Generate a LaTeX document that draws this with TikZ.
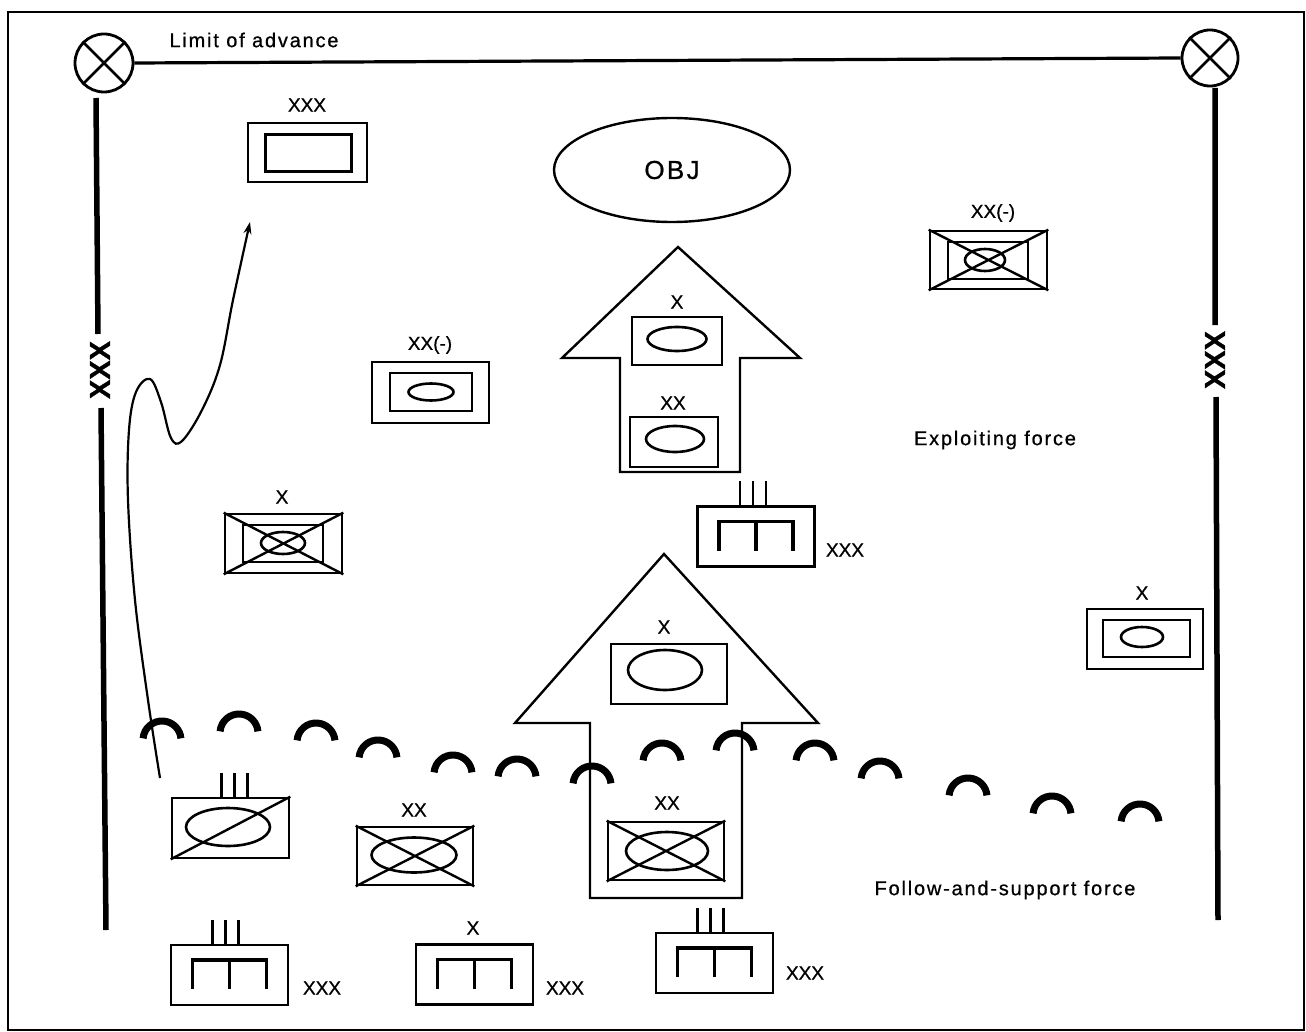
\documentclass[tikz,border=0pt]{standalone}
\usepackage{fontspec}
\setmainfont{Liberation Sans}[FakeBold=0.7]
\newfontfamily\captionfont{Liberation Sans}[LetterSpace=9,FakeBold=0.7]
\usetikzlibrary{shapes.geometric,calc,arrows.meta}

% artillery symbol: box, inner bracket, optional tube ticks
\newcommand\artyunit[3]{%
  \node[unitbox,minimum width=117pt,minimum height=60pt] (#1) at (#2,#3) {};
  \draw[bracket] ($(#1.center)+(-37,14)$) |- ($(#1.center)+(37,-15)$) -- ++(0,29);
  \draw[bracket] ($(#1.center)+(0,-15)$) -- ++(0,29);
}
\newcommand\tubeticks[2]{% node, horizontal offset of the middle tick
  \foreach \dx in {-13,0,13}{\draw[tick] ($(#1.north)+(#2+\dx,0)$) -- ++(0,-24);}
}
% obstacle arc, given by the centre of its base
\newcommand\wirearc[2]{\draw[wire] (#1,#2) ++(185:19) arc[start angle=185,end angle=355,radius=19];}

\begin{document}
\begin{tikzpicture}[x=1pt,y=-1pt,
  frame/.style={line width=2pt},
  boundary/.style={line width=5.5pt},
  loa/.style={line width=3.2pt},
  unitbox/.style={draw,line width=2.6pt,inner sep=0pt,rectangle},
  unitoval/.style={draw,line width=2.6pt,inner sep=0pt,ellipse},
  echelon/.style={font=\fontsize{19}{19}\selectfont,inner sep=0pt},
  caption/.style={font=\captionfont\fontsize{20}{20}\selectfont,inner sep=0pt},
  bdrylabel/.style={font=\fontsize{29}{29}\selectfont\bfseries,rotate=90,inner sep=0pt},
  blockarrow/.style={line width=2.4pt,line join=miter},
  cross/.style={line width=2.4pt},
  bracket/.style={line width=3.2pt},
  tick/.style={line width=2.8pt},
  wire/.style={line width=7pt,line cap=butt},
  cpoint/.style={draw,circle,line width=2.8pt,minimum size=58pt,inner sep=0pt},
]
\useasboundingbox (0,0) rectangle (1306,1032);
\draw[frame] (8,12) rectangle (1304,1030);

% limit of advance with coordinating points
\node[cpoint] (cpl) at (104,63) {};
\node[cpoint,minimum size=56pt] (cpr) at (1210,58) {};
\draw[line width=2.8pt] (cpl.north west) -- (cpl.south east) (cpl.north east) -- (cpl.south west);
\draw[line width=2.8pt] (cpr.north west) -- (cpr.south east) (cpr.north east) -- (cpr.south west);
\draw[loa] (cpl.east) -- (cpr.west);
\node[caption] (loatext) at (254,40) {Limit of advance};

% corps boundaries
\node[bdrylabel] (lbx) at (100,370) {XXX};
\coordinate (lb1) at (96,98);
\coordinate (lb2) at (98,334);
\coordinate (lb3) at (101,408);
\coordinate (lb4) at (106,930);
\draw[boundary] (lb1) -- (lb2) (lb3) -- (lb4);
\node[bdrylabel] (rbx) at (1215,360) {XXX};
\coordinate (rb1) at (1215,88);
\coordinate (rb2) at (1215,325);
\coordinate (rb3) at (1216,397);
\coordinate (rb4) at (1218,920);
\draw[boundary] (rb1) -- (rb2) (rb3) -- (rb4);

% objective
\node[draw,ellipse,line width=2.4pt,minimum width=236pt,minimum height=104pt,
      font=\captionfont\fontsize{26}{26}\selectfont] (obj) at (672,170) {OBJ};

% exploiting force arrow
\draw[blockarrow] (678,247) -- (800,358) -- (740,358) -- (740,472) -- (620,472)
  -- (620,358) -- (562,358) -- cycle;
\node[unitbox,minimum width=90pt,minimum height=48pt] (exb) at (677,341) {};
\node[unitoval,minimum width=59pt,minimum height=24pt] (exbo) at (677,339) {};
\node[echelon] (exbl) at (677,302) {X};
\node[unitbox,minimum width=88pt,minimum height=50pt] (exd) at (674,442) {};
\node[unitoval,minimum width=58pt,minimum height=26pt] (exdo) at (675,439) {};
\node[echelon] (exdl) at (673,403) {XX};
\node[caption] (extext) at (995,440) {Exploiting force};

% follow-and-support force arrow
\draw[blockarrow] (664,554) -- (818,723) -- (742,723) -- (742,898) -- (590,898)
  -- (590,723) -- (515,723) -- cycle;
\node[unitbox,minimum width=116pt,minimum height=60pt] (fsb) at (669,674) {};
\node[unitoval,minimum width=74pt,minimum height=40pt] (fsbo) at (665,670) {};
\node[echelon] (fsbl) at (664,627) {X};
\node[unitbox,minimum width=116pt,minimum height=58pt] (fsd) at (666,851) {};
\node[unitoval,minimum width=82pt,minimum height=38pt] (fsdo) at (667,851) {};
\draw[cross] (fsd.north west) -- (fsd.south east) (fsd.north east) -- (fsd.south west);
\node[echelon] (fsdl) at (667,803) {XX};
\node[caption] (fstext) at (1005,890) {Follow-and-support force};

% corps reserve, upper left
\node[unitbox,minimum width=119pt,minimum height=59pt] (cr) at (307.5,152.5) {};
\node[unitbox,minimum width=86pt,minimum height=37pt] (cri) at (308.5,153) {};
\node[echelon] (crl) at (307,105) {XXX};

% division (-), left
\node[unitbox,minimum width=117pt,minimum height=61pt] (dl) at (430.5,392.5) {};
\node[unitbox,minimum width=82pt,minimum height=38pt] (dli) at (431,392) {};
\node[unitoval,minimum width=45pt,minimum height=17pt] (dlo) at (431,392) {};
\node[echelon] (dll) at (430,345) {XX(-)};

% division (-), right
\node[unitbox,minimum width=117pt,minimum height=58pt] (dr) at (988.5,260) {};
\node[unitbox,minimum width=80pt,minimum height=37pt] (dri) at (988,260.5) {};
\node[unitoval,minimum width=40pt,minimum height=22pt] (dro) at (985,260) {};
\draw[cross] (dr.north west) -- (dr.south east) (dr.north east) -- (dr.south west);
\node[echelon] (drl) at (993,213) {XX(-)};

% brigade, left
\node[unitbox,minimum width=117pt,minimum height=59pt] (bl) at (283.5,543.5) {};
\node[unitbox,minimum width=80pt,minimum height=37pt] (bli) at (283,543.5) {};
\node[unitoval,minimum width=44pt,minimum height=22pt] (blo) at (283,543) {};
\draw[cross] (bl.north west) -- (bl.south east) (bl.north east) -- (bl.south west);
\node[echelon] (bll) at (282,497) {X};

% brigade, right
\node[unitbox,minimum width=116pt,minimum height=60pt] (br) at (1145,639) {};
\node[unitbox,minimum width=87pt,minimum height=37pt] (bri) at (1146.5,638.5) {};
\node[unitoval,minimum width=42pt,minimum height=20pt] (bro) at (1142,637) {};
\node[echelon] (brl) at (1142,593) {X};

% cavalry regiment, lower left
\node[unitbox,minimum width=117pt,minimum height=60pt] (cav) at (230.5,828) {};
\node[unitoval,minimum width=84pt,minimum height=38pt] (cavo) at (228,827) {};
\draw[cross] (cav.south west) -- (cav.north east);
\tubeticks{cav}{4}

% division, lower left
\node[unitbox,minimum width=116pt,minimum height=58pt] (dlow) at (415,856) {};
\node[unitoval,minimum width=85pt,minimum height=35pt] (dlowo) at (414,855) {};
\draw[cross] (dlow.north west) -- (dlow.south east) (dlow.north east) -- (dlow.south west);
\node[echelon] (dlowl) at (414,810) {XX};

% artillery
\artyunit{art1}{756}{536.5}
\tubeticks{art1}{-3}
\node[echelon] (art1l) at (845,550) {XXX};
\artyunit{art2}{714.5}{963}
\tubeticks{art2}{-4}
\node[echelon] (art2l) at (805,973) {XXX};
\artyunit{art3}{229.5}{975}
\tubeticks{art3}{-4}
\node[echelon] (art3l) at (322,988) {XXX};
\artyunit{art4}{474.5}{974.5}
\node[echelon] (art4t) at (473,928) {X};
\node[echelon] (art4l) at (565,988) {XXX};

% obstacle belt
\foreach \cx/\cy in {162/740,239/733,316/742,378/759,453/774,517/778,592/785,
  662/762,735/752,815/762,880/780,968/797,1052/815,1140/823}{\wirearc{\cx}{\cy}}

% maneuver route
\coordinate (mvstart) at (160,778);
\coordinate (mvend) at (250,222);
\draw[line width=2.2pt,-{Stealth[length=12pt,width=8pt]}] plot[smooth,tension=0.6] coordinates
  {(mvstart) (148,700) (135,600) (128,500) (129,430) (136,392) (150,379) (161,402)
   (171,438) (182,441) (202,410) (220,365) (233,300) (mvend)};
\end{tikzpicture}
\end{document}
